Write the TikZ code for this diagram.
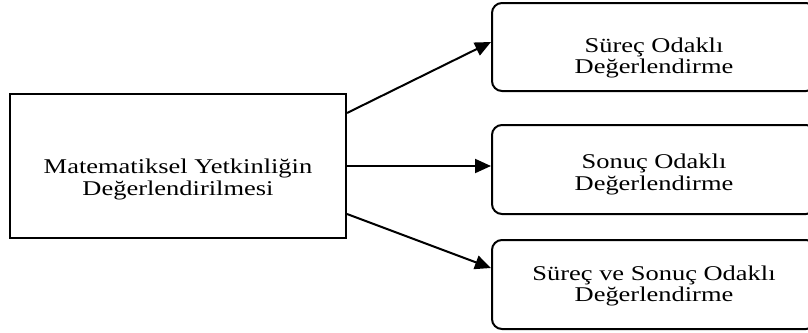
\documentclass[tikz,border=0pt]{standalone}
\usepackage{fontspec}
\setmainfont{Liberation Serif}[FakeStretch=1.26]
\usetikzlibrary{positioning, arrows.meta}

\begin{document}
\begin{tikzpicture}[font=\fontsize{10.5pt}{10.7pt}\selectfont, every node/.style={align=center},
  mainbox/.style={draw, line width=1pt, minimum width=168pt, minimum height=72pt, inner sep=0pt},
  typebox/.style={draw, line width=1pt, rounded corners=5pt, minimum width=162pt, minimum height=44.5pt, inner sep=0pt},
  link/.style={-{Triangle[length=8pt, width=7pt]}, line width=1pt}]
  \useasboundingbox (0,0) rectangle (404pt,-166pt);
  % main box
  \node[mainbox] (main) at (89pt,-83pt) {};
  \node (mainText) at ([yshift=-6.75pt]main.center) {Matematiksel Yetkinliğin\\Değerlendirilmesi};
  % result based
  \node[typebox, right=72pt of main, yshift=-1.75pt] (sonuc) {};
  \node (sonucText) at ([yshift=-2.5pt]sonuc.center) {Sonuç Odaklı\\Değerlendirme};
  % process based
  \node[typebox, minimum height=44pt, above=16pt of sonuc] (surec) {};
  \node (surecText) at ([yshift=-5.5pt]surec.center) {Süreç Odaklı\\Değerlendirme};
  % process and result based
  \node[typebox, below=12pt of sonuc] (ikisi) {};
  \node (ikisiText) at ([yshift=-0.75pt]ikisi.center) {Süreç ve Sonuç Odaklı\\Değerlendirme};
  % arrows
  \draw[link] ([yshift=26.5pt]main.east) -- ([yshift=2.5pt]surec.west);
  \draw[link] (main.east) -- (main.east -| sonuc.west);
  \draw[link] ([yshift=-24pt]main.east) -- ([yshift=8.25pt]ikisi.west);
\end{tikzpicture}
\end{document}
